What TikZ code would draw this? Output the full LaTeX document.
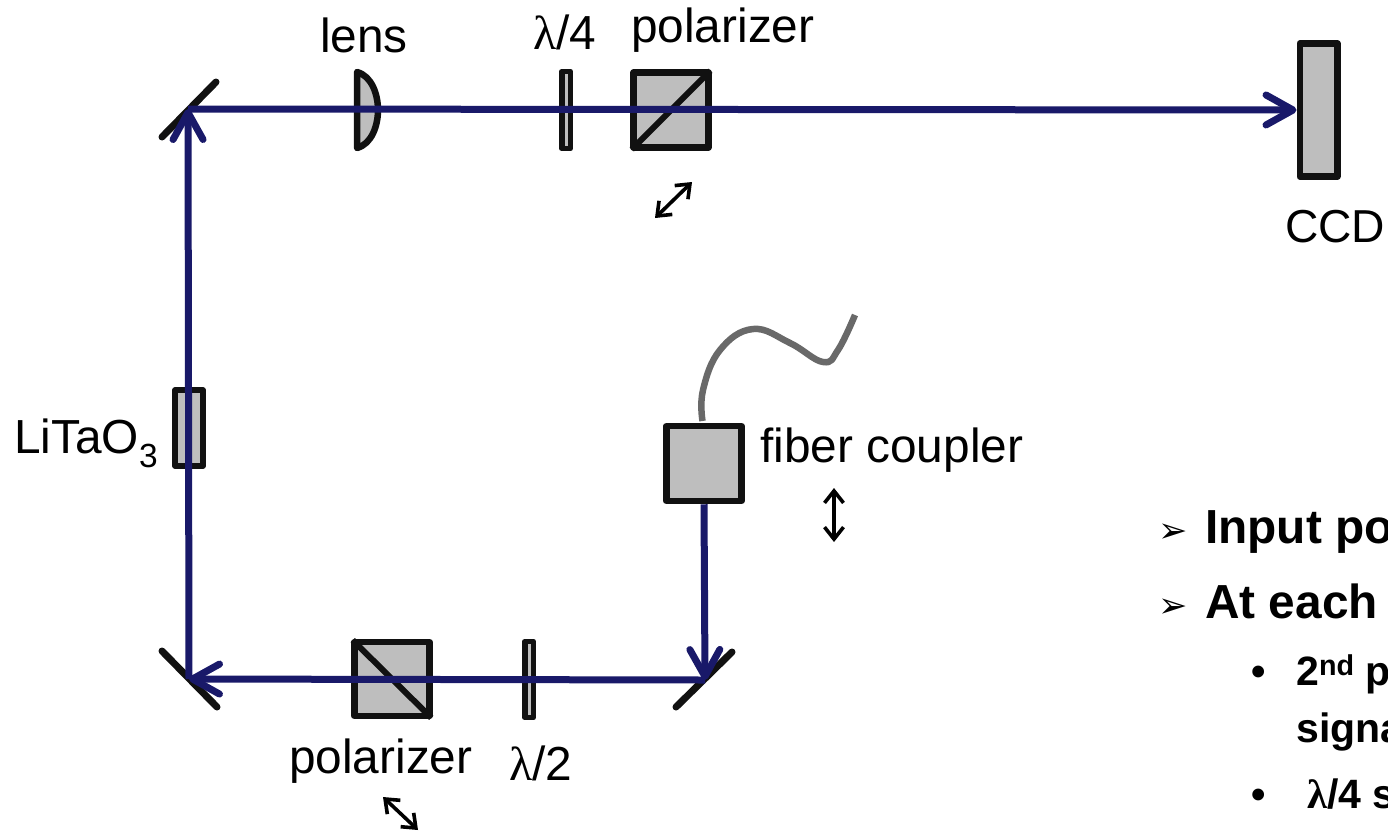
\documentclass[tikz,border=0pt]{standalone}
\usepackage{fontspec}
\setmainfont{Liberation Sans}
\newfontfamily\greekfont{Liberation Serif}
\newfontfamily\symbfont{DejaVu Sans}
\usetikzlibrary{arrows.meta}
\newcommand{\labelsize}{\fontsize{47.8}{50}\selectfont}
\newcommand{\listsize}{\fontsize{41}{44}\selectfont}
\newcommand{\lam}{{\greekfont λ}}
\definecolor{beamblue}{RGB}{25,25,105}
\definecolor{partgray}{RGB}{190,190,190}
\definecolor{edgeblack}{RGB}{17,17,17}
\definecolor{fibergray}{RGB}{105,105,105}
\tikzset{
  optic/.style={draw=edgeblack,fill=partgray,line width=6.5pt,line join=round,inner sep=0pt},
  plate/.style={optic,line width=5.5pt},
  split/.style={edgeblack,line width=6pt,shorten <=2pt,shorten >=2pt},
  mirror/.style={edgeblack,line width=7pt,line cap=round},
  beam/.style={beamblue,line width=7pt,-{Straight Barb[length=27pt,width=30pt,round]}},
  pol/.style={black,line width=3.6pt,{Straight Barb[length=12pt,width=19pt]}-{Straight Barb[length=12pt,width=19pt]}},
  txt/.style={anchor=base west,inner sep=0pt,text=black,font=\labelsize},
  head/.style={anchor=base west,inner sep=0pt,text=black,font=\labelsize\bfseries},
  sub/.style={anchor=base west,inner sep=0pt,text=black,font=\listsize\bfseries}
}
\begin{document}
\begin{tikzpicture}[x=1pt,y=-1pt]
  \useasboundingbox (0,0) rectangle (1388,833);

  % mirrors
  \coordinate (mTL) at (188,109);
  \coordinate (mBL) at (189,679);
  \coordinate (mBR) at (705,680);
  \draw[mirror] (162,137) -- (216,82);
  \draw[mirror] (162,651) -- (217,707);
  \draw[mirror] (676,707) -- (732,652);

  % upper arm
  \draw[optic] (357,72) .. controls (372,76) and (378,95) .. (378,110)
    .. controls (378,125) and (372,144) .. (357,148) -- cycle;
  \node[plate,minimum width=8.5pt,minimum height=77pt] (qwp) at (566,110) {};
  \node[optic,minimum width=75pt,minimum height=75pt] (polA) at (671,110) {};
  \draw[split] (polA.south west) -- (polA.north east);
  \node[optic,minimum width=37.5pt,minimum height=133pt] (ccd) at (1318.5,110) {};

  % crystal and coupler
  \node[plate,minimum width=28pt,minimum height=76pt] (crystal) at (189,428) {};
  \node[optic,minimum width=75pt,minimum height=75pt] (coupler) at (704,463.5) {};
  \draw[fibergray,line width=6.5pt] plot[smooth,tension=0.7] coordinates
    {(702.5,421) (703,390) (720,350) (753,329) (790,343) (823,362) (838,350) (855,315)};

  % lower arm
  \node[optic,minimum width=75pt,minimum height=74pt] (polB) at (392,679) {};
  \draw[split] (polB.north west) -- (polB.south east);
  \node[plate,minimum width=8.5pt,minimum height=76pt] (hwp) at (529,679.5) {};

  % beam
  \draw[beam] (coupler.south) -- (mBR);
  \draw[beam] (mBR) -- (mBL);
  \draw[beam] (mBL) -- (mTL);
  \draw[beam] (mTL) -- (ccd.west);

  % polarization arrows
  \coordinate (aS) at (655,218);
  \coordinate (aE) at (692,182);
  \draw[pol] (aS) -- (aE);
  \coordinate (bS) at (383,797);
  \coordinate (bE) at (418,830);
  \draw[pol] (bS) -- (bE);
  \coordinate (cS) at (834,488);
  \coordinate (cE) at (834,542);
  \draw[pol] (cS) -- (cE);

  % labels
  \node[txt] (lensL) at (320,52) {lens};
  \node[txt] (qwpL) at (533,49) {\lam/4};
  \node[txt] (polAL) at (631,42) {polarizer};
  \node[txt,font=\fontsize{46.2}{50}\selectfont] (ccdL) at (1285,242) {CCD};
  \node[txt] (crystalL) at (14,453) {LiTaO\textsubscript{3}};
  \node[txt] (couplerL) at (760,462) {fiber coupler};
  \node[txt] (polBL) at (289,773) {polarizer};
  \node[txt] (hwpL) at (509,780) {\lam/2};

  % text list, cut by the page edge
  \node[txt,font=\fontsize{35}{35}\symbfont] (b1) at (1158,542) {➢};
  \node[head] (t1) at (1205,543) {Input po};
  \node[txt,font=\fontsize{35}{35}\symbfont] (b2) at (1158,617) {➢};
  \node[head] (t2) at (1205,618) {At each};
  \node[sub] (b3) at (1251,685) {•};
  \node[sub] (t3) at (1296,685) {2\textsuperscript{nd} p};
  \node[sub] (t4) at (1296,742) {signa};
  \node[sub] (b4) at (1251,808) {•};
  \node[sub] (t5) at (1307,808) {\lam/4 s};
\end{tikzpicture}
\end{document}
